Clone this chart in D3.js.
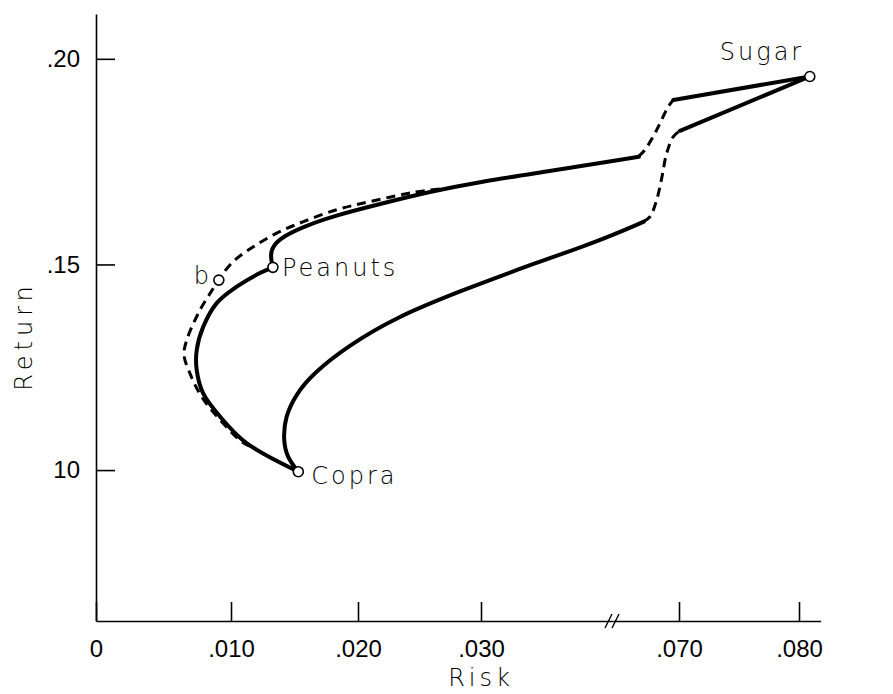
<!DOCTYPE html>
<html>
<head>
    <title>Risk and Return</title>
    <script src="https://d3js.org/d3.v7.min.js"></script>
    <style>
        body {
            margin: 0;
            background-color: #fff;
        }

        svg {
            display: block;
            font-family: 'DejaVu Sans', sans-serif;
            font-weight: 200;
        }

        .axis path,
        .axis line {
            stroke: #000;
            stroke-width: 1.6px;
        }

        .axis text {
            font-size: 24px;
            fill: #000;
        }

        .solid {
            fill: none;
            stroke: #000;
            stroke-width: 4px;
            stroke-linecap: round;
            stroke-linejoin: round;
        }

        .dashed {
            fill: none;
            stroke: #000;
            stroke-width: 3px;
            stroke-dasharray: 9 6;
        }

        .point {
            fill: #fff;
            stroke: #000;
            stroke-width: 1.6px;
        }

        .label {
            font-size: 24px;
            fill: #000;
            letter-spacing: 3px;
        }

        .title {
            font-size: 24px;
            fill: #000;
            letter-spacing: 5px;
        }
    </style>
</head>
<body>
    <div id="chart"></div>

    <script>
        // tick values
        const yTicks = [0.10, 0.15, 0.20];
        const yTickLabels = ["10", ".15", ".20"];
        const xTicksLeft = [0, 0.01, 0.02, 0.03];
        const xTickLabelsLeft = ["0", ".010", ".020", ".030"];
        const xTicksRight = [0.07, 0.08];
        const xTickLabelsRight = [".070", ".080"];

        // named portfolios [risk, return]
        const assets = [
            { name: "Sugar", risk: 0.0809, ret: 0.1957 },
            { name: "Peanuts", risk: 0.0133, ret: 0.1493 },
            { name: "Copra", risk: 0.0153, ret: 0.0996 },
            { name: "b", risk: 0.0091, ret: 0.1462 }
        ];

        // upper solid frontier, Copra -> Peanuts
        const frontierLow = [
            [0.0153, 0.0996], [0.0112, 0.1066], [0.00919, 0.1130], [0.00793, 0.1187],
            [0.00746, 0.1243], [0.00746, 0.1292], [0.00795, 0.1349], [0.00894, 0.1406],
            [0.01045, 0.1446], [0.01228, 0.1479], [0.0133, 0.1493]
        ];
        // upper solid frontier, Peanuts -> break
        const frontierHigh = [
            [0.0133, 0.1493], [0.01307, 0.1523], [0.01333, 0.1547], [0.01412, 0.1568],
            [0.01569, 0.1592], [0.01832, 0.1620], [0.02179, 0.1647], [0.02585, 0.1677],
            [0.02992, 0.1701], [0.03534, 0.1726], [0.0428, 0.1762]
        ];
        // lower solid boundary, Copra -> break
        const lowerEdge = [
            [0.0153, 0.0996], [0.01439, 0.1032], [0.01412, 0.1073], [0.01425, 0.1130],
            [0.01517, 0.1187], [0.01648, 0.1235], [0.01911, 0.1300], [0.02315, 0.1373],
            [0.02856, 0.1438], [0.03398, 0.1499], [0.0394, 0.1555], [0.0432, 0.1604]
        ];
        // dashed curve through b
        const bCurve = [
            [0.0115, 0.1058], [0.01084, 0.1069], [0.00919, 0.1122], [0.00783, 0.1178],
            [0.00696, 0.1235], [0.00652, 0.1280], [0.00672, 0.1316], [0.0077, 0.1389],
            [0.00869, 0.1442], [0.00906, 0.1462], [0.01017, 0.1507], [0.01176, 0.1543],
            [0.0136, 0.1576], [0.0157, 0.1604], [0.01832, 0.1633], [0.02098, 0.1653],
            [0.0245, 0.1675], [0.0267, 0.1684]
        ];
        // dashed pieces across the axis break (right-hand scale)
        const upperBridge = [
            [0.06661, 0.1762], [0.06717, 0.1779], [0.06814, 0.1827], [0.06911, 0.1884], [0.06953, 0.1900]
        ];
        const lowerBridge = [
            [0.06703, 0.1604], [0.06758, 0.1616], [0.06814, 0.1657], [0.06858, 0.1713],
            [0.06897, 0.1770], [0.06953, 0.1811], [0.07008, 0.1825]
        ];
        // straight runs up to Sugar
        const upperToSugar = [[0.06953, 0.1900], [0.0809, 0.1957]];
        const lowerToSugar = [[0.07008, 0.1825], [0.0809, 0.1957]];

        const width = 893, height = 694;
        const BREAK = 0.055;

        const svg = d3.select('#chart').append('svg')
            .attr('width', width)
            .attr('height', height);

        const yScale = d3.scaleLinear().domain([0.0633, 0.2109]).range([621, 14]);
        // hand-drawn axis: uneven spacing on the left part
        const xLeft = d3.scaleLinear()
            .domain([0, 0.01, 0.02, 0.03, 0.0407])
            .range([96, 231, 358, 481, 613]);
        const xRight = d3.scaleLinear().domain([0.0645, 0.0818]).range([613, 820.6]);
        const xPos = v => v < BREAK ? xLeft(v) : xRight(v);

        // axes
        svg.append('g')
            .attr('class', 'axis')
            .attr('transform', 'translate(96,0)')
            .call(d3.axisLeft(yScale)
                .tickValues(yTicks)
                .tickFormat((d, i) => yTickLabels[i])
                .tickSizeInner(-19)
                .tickSizeOuter(0)
                .tickPadding(16));

        svg.append('g')
            .attr('class', 'axis')
            .attr('transform', 'translate(0,621)')
            .call(d3.axisBottom(xLeft)
                .tickValues(xTicksLeft)
                .tickFormat((d, i) => xTickLabelsLeft[i])
                .tickSizeInner(-19)
                .tickSizeOuter(0)
                .tickPadding(19));

        svg.append('g')
            .attr('class', 'axis')
            .attr('transform', 'translate(0,621)')
            .call(d3.axisBottom(xRight)
                .tickValues(xTicksRight)
                .tickFormat((d, i) => xTickLabelsRight[i])
                .tickSizeInner(-19)
                .tickSizeOuter(0)
                .tickPadding(19));

        // break marks on the x axis
        const bx = xLeft(0.0407);
        svg.append('g').selectAll('line')
            .data([-4, 3])
            .join('line')
            .attr('x1', d => bx + d - 4)
            .attr('y1', 628)
            .attr('x2', d => bx + d + 3)
            .attr('y2', 614)
            .attr('stroke', '#000')
            .attr('stroke-width', 1.4);

        // axis titles
        svg.append('text')
            .attr('class', 'title')
            .attr('transform', 'translate(32,336) rotate(-90)')
            .attr('text-anchor', 'middle')
            .text('Return');

        svg.append('text')
            .attr('class', 'title')
            .attr('x', 481)
            .attr('y', 686)
            .attr('text-anchor', 'middle')
            .style('letter-spacing', '4px')
            .text('Risk');

        // curves
        const smooth = d3.line()
            .x(d => xPos(d[0]))
            .y(d => yScale(d[1]))
            .curve(d3.curveCatmullRom.alpha(0.5));

        const soft = d3.line()
            .x(d => xPos(d[0]))
            .y(d => yScale(d[1]))
            .curve(d3.curveBasis);

        const straight = d3.line()
            .x(d => xPos(d[0]))
            .y(d => yScale(d[1]));

        [bCurve, upperBridge, lowerBridge].forEach(pts => {
            svg.append('path').attr('class', 'dashed').attr('d', smooth(pts));
        });

        svg.append('path').attr('class', 'solid').attr('d', smooth(frontierLow));
        [frontierHigh, lowerEdge].forEach(pts => {
            svg.append('path').attr('class', 'solid').attr('d', soft(pts));
        });

        [upperToSugar, lowerToSugar].forEach(pts => {
            svg.append('path').attr('class', 'solid').attr('d', straight(pts));
        });

        // asset points and labels
        svg.append('g').selectAll('circle')
            .data(assets)
            .join('circle')
            .attr('class', 'point')
            .attr('cx', d => xPos(d.risk))
            .attr('cy', d => yScale(d.ret))
            .attr('r', 5);

        const labelOffset = {
            Sugar: { dx: -90, dy: -17 },
            Peanuts: { dx: 9, dy: 9 },
            Copra: { dx: 13, dy: 12 },
            b: { dx: -25, dy: 4 }
        };

        svg.append('g').selectAll('text')
            .data(assets)
            .join('text')
            .attr('class', 'label')
            .attr('x', d => xPos(d.risk) + labelOffset[d.name].dx)
            .attr('y', d => yScale(d.ret) + labelOffset[d.name].dy)
            .text(d => d.name);
    </script>
</body>
</html>
